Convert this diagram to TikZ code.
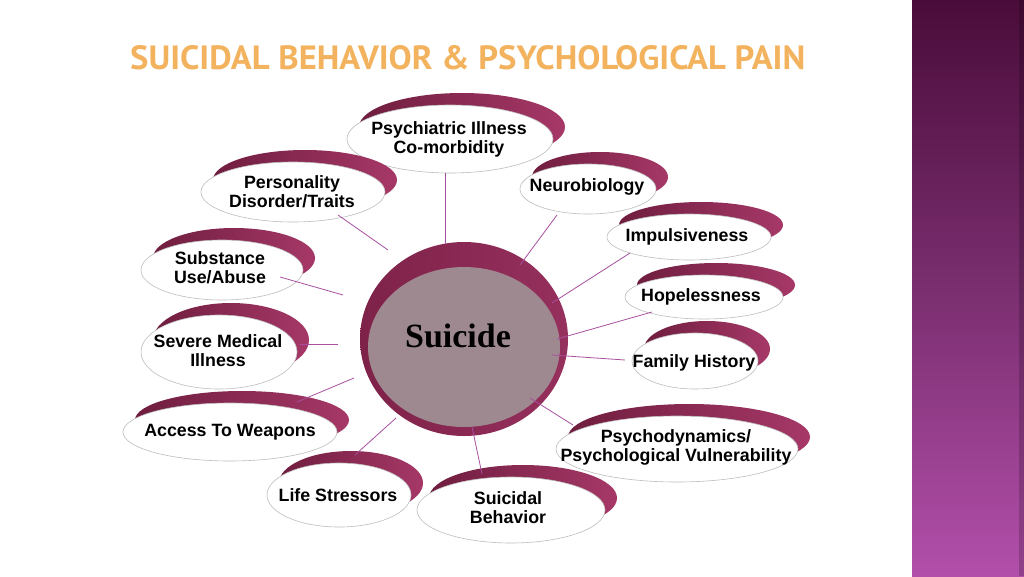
\documentclass[tikz,border=0pt]{standalone}
\usepackage{fontspec}
\setmainfont{Liberation Sans}
\newfontfamily\serifbf{Liberation Serif}
\newfontfamily\titlefont{PT Sans}
\usetikzlibrary{shapes.geometric}
\definecolor{crimL}{HTML}{6F1D3F}
\definecolor{crimR}{HTML}{A63867}
\definecolor{rimL}{HTML}{7E2249}
\definecolor{rimR}{HTML}{96305D}
\definecolor{coreGrey}{HTML}{9E8991}
\definecolor{edgeGrey}{HTML}{BDBDBD}
\definecolor{connCol}{HTML}{A8509F}
\definecolor{titleCol}{HTML}{F3B35E}
\definecolor{stripTop}{HTML}{4A0C3A}
\definecolor{stripMid}{HTML}{7A2E6F}
\definecolor{stripBot}{HTML}{B24FAA}
\tikzset{
  bubshape/.style={ellipse, draw=edgeGrey, line width=0.6pt, fill=white, inner sep=0pt},
  bubtext/.style={inner sep=0pt, align=center, text=black,
    font=\bfseries\fontsize{17.8}{19}\selectfont},
  conn/.style={draw=connCol, line width=0.8pt},
}
% name, x, y, rx, ry, text x, text y, text
\newcommand\bubble[8]{%
  \shade[left color=crimL, right color=crimR, xshift=12pt, yshift=12pt]
    (#2,#3) ellipse [x radius=#4pt, y radius=#5pt];
  \node[bubshape, minimum width=2*#4pt, minimum height=2*#5pt] (#1) at (#2,#3) {};
  \node[bubtext] (#1-t) at (#6,#7) {#8};
}
\begin{document}
\begin{tikzpicture}[x=1pt,y=-1pt]
\useasboundingbox (0,0) rectangle (1024,576);
\fill[white] (0,0) rectangle (1024,576);
% side strip
\shade[top color=stripTop, bottom color=stripBot, middle color=stripMid] (912,0) rectangle (1024,576);
\fill[black, opacity=0.18] (1019,0) rectangle (1024,576);
% title
\node[anchor=south west, inner sep=0pt, text=titleCol] (title) at (130,70)
  {\resizebox{675pt}{24pt}{\titlefont\bfseries SUICIDAL BEHAVIOR \& PSYCHOLOGICAL PAIN}};
% central circle
\shade[left color=rimL, right color=rimR] (464,339) ellipse [x radius=104pt, y radius=97pt];
\node[ellipse, fill=coreGrey, minimum width=192pt, minimum height=160pt, inner sep=0pt] (core) at (464,347) {};
\node[inner sep=0pt, font=\serifbf\bfseries\fontsize{34}{36}\selectfont] (suicide) at (458,336) {Suicide};
% bubbles
\bubble{psych}{450}{139}{103}{34}{449}{139}{Psychiatric Illness\\Co-morbidity}
\bubble{pers}{293}{192}{92}{30}{292}{192}{Personality\\Disorder/Traits}
\bubble{subst}{222}{270}{81}{30}{220}{268}{Substance\\Use/Abuse}
\bubble{severe}{219}{352}{78}{37}{218}{351}{Severe Medical\\Illness}
\bubble{access}{230}{432}{107}{29}{230}{432}{Access To Weapons}
\bubble{life}{339}{495}{72}{32}{338}{495}{Life Stressors}
\bubble{neuro}{588}{189}{68}{25}{587}{187}{Neurobiology}
\bubble{impul}{689}{237}{82}{23}{687}{237}{Impulsiveness}
\bubble{hope}{704}{297}{79}{22}{701}{297}{Hopelessness}
\bubble{family}{695}{361}{63}{28}{694}{363}{Family History}
\bubble{psydyn}{677}{449}{121}{33}{676}{447}{Psychodynamics/\\Psychological Vulnerability}
\bubble{suibeh}{511}{510}{94}{33}{508}{508}{Suicidal\\Behavior}
% connector end points
\coordinate (a1) at (445,173); \coordinate (b1) at (445,244);
\coordinate (a2) at (338,215); \coordinate (b2) at (388,250);
\coordinate (a3) at (280,277); \coordinate (b3) at (343,295);
\coordinate (a4) at (300,344); \coordinate (b4) at (338,344);
\coordinate (a5) at (297,402); \coordinate (b5) at (354,378);
\coordinate (a6) at (355,455); \coordinate (b6) at (396,418);
\coordinate (a7) at (482,474); \coordinate (b7) at (472,427);
\coordinate (a8) at (557,215); \coordinate (b8) at (520,265);
\coordinate (a9) at (630,253); \coordinate (b9) at (552,303);
\coordinate (a10) at (652,312); \coordinate (b10) at (557,339);
\coordinate (a11) at (625,360); \coordinate (b11) at (552,355);
\coordinate (a12) at (573,425); \coordinate (b12) at (530,398);
\foreach \i in {1,...,12} { \draw[conn] (a\i) -- (b\i); }
\end{tikzpicture}
\end{document}
